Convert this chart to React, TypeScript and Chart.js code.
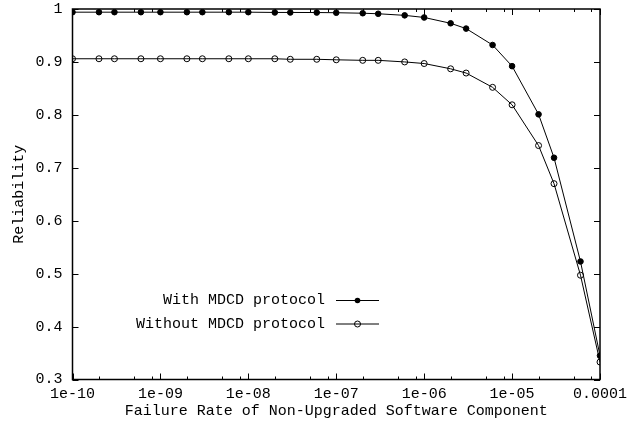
import React, { useEffect, useRef } from "react";
import { Chart, registerables } from "chart.js";

Chart.register(...registerables);

const xValues = [
  1e-10, 2e-10, 3e-10, 6e-10,
  1e-9, 2e-9, 3e-9, 6e-9,
  1e-8, 2e-8, 3e-8, 6e-8,
  1e-7, 2e-7, 3e-7, 6e-7,
  1e-6, 2e-6, 3e-6, 6e-6,
  1e-5, 2e-5, 3e-5, 6e-5,
  1e-4,
];
const withMDCD = [
  0.994, 0.994, 0.994, 0.994,
  0.994, 0.994, 0.994, 0.994,
  0.994, 0.9935, 0.9935, 0.9933,
  0.993, 0.992, 0.991, 0.988,
  0.984, 0.973, 0.963, 0.932,
  0.892, 0.801, 0.719, 0.523,
  0.345,
];
const withoutMDCD = [
  0.906, 0.906, 0.906, 0.906,
  0.906, 0.906, 0.906, 0.906,
  0.906, 0.906, 0.905, 0.905,
  0.904, 0.903, 0.903, 0.9,
  0.897, 0.887, 0.879, 0.852,
  0.819, 0.742, 0.67, 0.497,
  0.333,
];
const seriesLabels = ["With MDCD protocol", "Without MDCD protocol"];
const xTickValues = [1e-10, 1e-9, 1e-8, 1e-7, 1e-6, 1e-5, 1e-4];
const xTickLabels = ["1e-10", "1e-09", "1e-08", "1e-07", "1e-06", "1e-05", "0.0001"];
const xMinorMultipliers = [2, 5, 8];
const yTickValues = [0.3, 0.4, 0.5, 0.6, 0.7, 0.8, 0.9, 1];
const yTickLabels = ["0.3", "0.4", "0.5", "0.6", "0.7", "0.8", "0.9", "1"];
const xTitle = "Failure Rate of Non-Upgraded Software Component";
const yTitle = "Reliability";

const FONT = "'Liberation Mono', 'Courier New', monospace";

const framePlugin = {
  id: "frame",
  beforeDatasetsDraw(chart: any) {
    const { ctx, chartArea } = chart;
    const xs = chart.scales.x;
    const ys = chart.scales.y;
    const { left, right, top, bottom } = chartArea;
    ctx.save();
    ctx.strokeStyle = "#000";
    ctx.lineWidth = 1;
    ctx.beginPath();
    yTickValues.forEach((v) => {
      const y = Math.round(ys.getPixelForValue(v)) + 0.5;
      ctx.moveTo(left, y);
      ctx.lineTo(left + 6, y);
      ctx.moveTo(right, y);
      ctx.lineTo(right - 6, y);
    });
    xTickValues.forEach((v) => {
      const x = Math.round(xs.getPixelForValue(v)) + 0.5;
      ctx.moveTo(x, bottom);
      ctx.lineTo(x, bottom - 6);
      ctx.moveTo(x, top);
      ctx.lineTo(x, top + 6);
    });
    xTickValues.slice(0, -1).forEach((d) => {
      xMinorMultipliers.forEach((m) => {
        const x = Math.round(xs.getPixelForValue(d * m)) + 0.5;
        ctx.moveTo(x, bottom);
        ctx.lineTo(x, bottom - 3);
        ctx.moveTo(x, top);
        ctx.lineTo(x, top + 3);
      });
    });
    ctx.stroke();
    ctx.lineWidth = 1.5;
    ctx.strokeRect(left, top, right - left, bottom - top);
    ctx.restore();
  },
};

const legendPlugin = {
  id: "customLegend",
  afterDraw(chart: any) {
    const { ctx } = chart;
    const rows = [300, 324];
    ctx.save();
    ctx.font = `15px ${FONT}`;
    ctx.textAlign = "right";
    ctx.textBaseline = "middle";
    chart.data.datasets.forEach((ds: any, i: number) => {
      const y = rows[i] + (i === 0 ? 0.5 : 0);
      ctx.fillStyle = "#000";
      ctx.fillText(ds.label, 325, rows[i]);
      ctx.strokeStyle = "#000";
      ctx.lineWidth = 1;
      ctx.beginPath();
      ctx.moveTo(336, y);
      ctx.lineTo(379, y);
      ctx.stroke();
      ctx.beginPath();
      ctx.arc(357.5, y, i === 0 ? 2.8 : 3, 0, Math.PI * 2);
      if (i === 0) {
        ctx.fill();
      } else {
        ctx.stroke();
      }
    });
    ctx.restore();
  },
};

export default function App() {
  const ref = useRef<HTMLCanvasElement | null>(null);
  useEffect(() => {
    if (!ref.current) return;
    const chart = new Chart(ref.current, {
      type: "line",
      data: {
        datasets: [
          {
            label: seriesLabels[0],
            data: xValues.map((x, i) => ({ x, y: withMDCD[i] })),
            borderColor: "#000",
            backgroundColor: "#000",
            borderWidth: 1,
            pointRadius: 2.8,
            pointBorderWidth: 1,
            pointBorderColor: "#000",
            pointBackgroundColor: "#000",
            tension: 0,
          },
          {
            label: seriesLabels[1],
            data: xValues.map((x, i) => ({ x, y: withoutMDCD[i] })),
            borderColor: "#000",
            backgroundColor: "rgba(0,0,0,0)",
            borderWidth: 1,
            pointRadius: 3,
            pointBorderWidth: 1,
            pointBorderColor: "#000",
            pointBackgroundColor: "rgba(0,0,0,0)",
            tension: 0,
          },
        ],
      },
      options: {
        responsive: false,
        animation: false,
        layout: { padding: { top: 9, right: 39, left: 0, bottom: 0 } },
        plugins: {
          legend: { display: false },
          tooltip: { enabled: false },
        },
        scales: {
          x: {
            type: "logarithmic",
            min: 1e-10,
            max: 1e-4,
            afterBuildTicks: (scale: any) => {
              scale.ticks = xTickValues.map((v) => ({ value: v }));
            },
            afterFit: (scale: any) => {
              scale.height = 52.5;
              scale.paddingLeft = 0;
              scale.paddingRight = 0;
            },
            grid: { display: false, drawTicks: false },
            border: { display: false },
            ticks: {
              autoSkip: false,
              maxRotation: 0,
              padding: 6,
              color: "#000",
              font: { family: FONT, size: 15 },
              callback: (v: any) => {
                const i = xTickValues.findIndex((t) => Math.abs(Math.log10(t) - Math.log10(Number(v))) < 1e-6);
                return i >= 0 ? xTickLabels[i] : "";
              },
            },
            title: {
              display: true,
              text: xTitle,
              color: "#000",
              font: { family: FONT, size: 15 },
              padding: { top: 0, bottom: 12 },
            },
          },
          y: {
            type: "linear",
            min: 0.3,
            max: 1,
            afterBuildTicks: (scale: any) => {
              scale.ticks = yTickValues.map((v) => ({ value: v }));
            },
            afterFit: (scale: any) => {
              scale.width = 72.5;
              scale.paddingTop = 0;
              scale.paddingBottom = 0;
            },
            grid: { display: false, drawTicks: false },
            border: { display: false },
            ticks: {
              padding: 10,
              color: "#000",
              font: { family: FONT, size: 15 },
              callback: (v: any) => {
                const i = yTickValues.findIndex((t) => Math.abs(t - Number(v)) < 1e-6);
                return i >= 0 ? yTickLabels[i] : "";
              },
            },
            title: {
              display: true,
              text: yTitle,
              color: "#000",
              font: { family: FONT, size: 15 },
              padding: { top: 10, bottom: 0 },
            },
          },
        },
      },
      plugins: [framePlugin, legendPlugin],
    });
    return () => chart.destroy();
  }, []);
  return (
    <div style={{ position: "absolute", left: 0, top: 0, width: "639px", height: "432px" }}>
      <canvas
        ref={ref}
        width={639}
        height={432}
        style={{ display: "block", width: "639px", height: "432px" }}
      />
    </div>
  );
}
